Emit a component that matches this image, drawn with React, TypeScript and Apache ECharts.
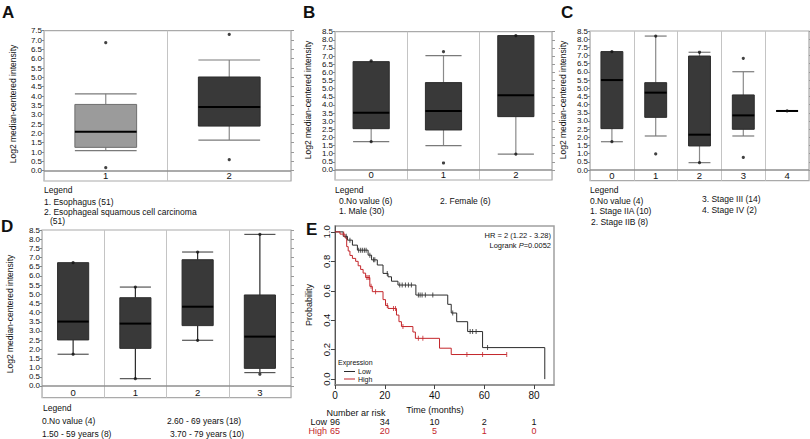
import React, { useEffect, useRef } from 'react';
import * as echarts from 'echarts';

const FONT = '"Liberation Sans", Arial, Helvetica, sans-serif';

// ---------- Panel A ----------
const aCategories = ['1', '2'];
// [min, Q1, median, Q3, max]
const aBoxes = [
  [1.07, 1.25, 2.09, 3.55, 4.12],
  [1.64, 2.39, 3.41, 5.02, 5.93],
];
const aFills = ['#9b9b9b', '#393939'];
const aPoints = [[0, 6.86], [0, 0.16], [1, 7.3], [1, 0.59]];
const aTicks = [0, 0.5, 1, 1.5, 2, 2.5, 3, 3.5, 4, 4.5, 5, 5.5, 6, 6.5, 7, 7.5];
const aLegend = ['1. Esophagus (51)', '2. Esophageal squamous cell carcinoma', '(51)'];

// ---------- Panel B ----------
const bCategories = ['0', '1', '2'];
const bBoxes = [
  [1.74, 2.54, 3.52, 6.66, 6.7],
  [1.5, 2.46, 3.63, 5.37, 7.03],
  [0.98, 3.28, 4.59, 8.26, 8.26],
];
const bFills = ['#393939', '#393939', '#393939'];
const bPoints = [[0, 6.7], [0, 1.74], [1, 7.27], [1, 0.43], [2, 8.26], [2, 0.98]];
const bLegend = ['0.No value (6)', '1. Male (30)', '2. Female (6)'];

// ---------- Panel C ----------
const cCategories = ['0', '1', '2', '3', '4'];
const cBoxes = [
  [1.73, 2.53, 5.5, 7.24, 7.24],
  [2.08, 3.22, 4.73, 5.34, 8.19],
  [0.45, 1.47, 2.16, 6.97, 7.2],
  [2.08, 2.49, 3.34, 4.59, 6.01],
  [3.61, 3.61, 3.61, 3.61, 3.61],
];
const cFills = ['#393939', '#393939', '#393939', '#393939', '#393939'];
const cPoints = [[0, 7.24], [0, 1.73], [1, 8.19], [1, 0.98], [2, 7.2], [2, 0.45], [3, 6.83], [3, 0.77], [4, 3.61]];
const cLegend = ['0.No value (4)', '1. Stage IIA (10)', '2. Stage IIB (8)', '3. Stage III (14)', '4. Stage IV (2)'];

// ---------- Panel D ----------
const dCategories = ['0', '1', '2', '3'];
const dBoxes = [
  [1.73, 2.51, 3.51, 6.72, 6.72],
  [0.4, 2.05, 3.4, 4.81, 5.39],
  [2.49, 3.29, 4.32, 6.88, 7.3],
  [0.73, 0.96, 2.69, 4.96, 8.26],
];
const dFills = ['#393939', '#393939', '#393939', '#393939'];
const dPoints = [[0, 6.72], [0, 1.73], [1, 5.39], [1, 0.4], [2, 7.3], [2, 2.49], [3, 8.26], [3, 0.64]];
const dLegend = ['0.No value (4)', '1.50 - 59 years (8)', '2.60 - 69 years (18)', '3.70 - 79 years (10)'];

const tTicks85 = [0, 0.5, 1, 1.5, 2, 2.5, 3, 3.5, 4, 4.5, 5, 5.5, 6, 6.5, 7, 7.5, 8, 8.5];

// ---------- Panel E (Kaplan-Meier) ----------
const kmXTicks = [0, 20, 40, 60, 80];
const kmYTicks = [0, 0.2, 0.4, 0.6, 0.8, 1.0];
const lowTimes = [0, 3.3, 5, 7, 9, 13.3, 14.7, 17, 19.3, 21.3, 22.7, 25.3, 32.5, 45.3, 46.7, 48.9, 53.3, 59.3, 84.3];
const lowSurv = [1, 0.97, 0.944, 0.91, 0.876, 0.842, 0.81, 0.775, 0.718, 0.695, 0.665, 0.639, 0.571, 0.508, 0.449, 0.39, 0.323, 0.214, 0];
const lowCensor = [4.5, 6, 9.5, 10.3, 11, 11.8, 12.5, 14, 15.5, 16, 21, 26, 27, 28.3, 29.5, 30.7, 33.5, 34.2, 35, 36.3, 39.3, 47.3, 54.3, 55.3, 56.7, 61.3];
const highTimes = [0, 2, 4, 4.7, 5.3, 6, 7, 8.3, 9.3, 10.3, 11.3, 12.3, 14, 15, 19.3, 20.3, 21.3, 24.7, 25.7, 26.7, 31.3, 32.3, 42, 46.7, 69];
const highSurv = [1, 0.985, 0.96, 0.9, 0.87, 0.84, 0.82, 0.8, 0.77, 0.745, 0.72, 0.69, 0.63, 0.594, 0.54, 0.5, 0.48, 0.435, 0.39, 0.357, 0.32, 0.277, 0.21, 0.167, 0.167];
const highCensor = [3.5, 12.8, 13.3, 13.8, 14.5, 16.3, 21, 23.5, 24.3, 27.3, 33.5, 35.3, 53, 59.3, 69];
const riskTimes = [0, 20, 40, 60, 80];
const riskLow = [96, 34, 10, 2, 1];
const riskHigh = [65, 20, 5, 1, 0];
const hrText = 'HR = 2 (1.22 - 3.28)';
const logrankP = '0.0052';

const LOW_COLOR = '#2b2b2b';
const HIGH_COLOR = '#c4262b';

function stepAt(times: number[], surv: number[], t: number) {
  let v = surv[0];
  for (let i = 0; i < times.length; i++) if (times[i] <= t) v = surv[i];
  return v;
}

// layout of boxplot panels
const boxPanels = [
  { cats: aCategories, boxes: aBoxes, fills: aFills, points: aPoints, ticks: aTicks, yMin: -0.552, yMax: 7.5,
    grid: { left: 44, right: 519, top: 30.7, bottom: 258 }, whisker: '#8a8a8a', cap: '#7a7a7a' },
  { cats: bCategories, boxes: bBoxes, fills: bFills, points: bPoints, ticks: tTicks85, yMin: -0.615, yMax: 8.5,
    grid: { left: 335, right: 258, top: 31.7, bottom: 259 }, whisker: '#8a8a8a', cap: '#7a7a7a' },
  { cats: cCategories, boxes: cBoxes, fills: cFills, points: cPoints, ticks: tTicks85, yMin: -0.654, yMax: 8.5,
    grid: { left: 590, right: 1, top: 31, bottom: 258.3 }, whisker: '#8a8a8a', cap: '#7a7a7a' },
  { cats: dCategories, boxes: dBoxes, fills: dFills, points: dPoints, ticks: tTicks85, yMin: -0.638, yMax: 8.5,
    grid: { left: 42, right: 519, top: 230, bottom: 41.3 }, whisker: '#2a2a2a', cap: '#555555' },
];

function txt(text: string, x: number, y: number, opts: any = {}) {
  return {
    type: 'text',
    x: opts.rot ? x : 0,
    y: opts.rot ? y : 0,
    rotation: opts.rot || 0,
    silent: true,
    style: {
      text,
      x: opts.rot ? 0 : x,
      y: opts.rot ? 0 : y,
      fill: opts.fill || '#111',
      font: `${opts.fontWeight || 'normal'} ${opts.size || 8.5}px ${FONT}`,
      fontSize: opts.size || 8.5,
      fontFamily: FONT,
      fontWeight: opts.fontWeight || 'normal',
      textAlign: opts.align || 'left',
      align: opts.align || 'left',
      textVerticalAlign: 'middle',
      verticalAlign: 'middle',
      rich: opts.rich,
    },
  };
}

export default function App() {
  const ref = useRef<HTMLDivElement>(null);

  useEffect(() => {
    if (!ref.current) return;
    const chart = echarts.init(ref.current, undefined, { renderer: 'svg' });

    const grids: any[] = [];
    const xAxes: any[] = [];
    const yAxes: any[] = [];
    const series: any[] = [];

    boxPanels.forEach((p, i) => {
      grids.push({ ...p.grid, show: true, borderColor: '#aaaaaa', borderWidth: 1.2, backgroundColor: 'transparent' });
      xAxes.push({
        type: 'category', gridIndex: i, data: p.cats, boundaryGap: true,
        axisLine: { show: false, onZero: false },
        axisTick: { show: false },
        axisLabel: { interval: 0, inside: true, margin: 1, fontSize: 9.5, lineHeight: 9, color: '#111', fontFamily: FONT },
        splitLine: { show: true, interval: 0, lineStyle: { color: '#c4c4c4', width: 1 } },
      });
      yAxes.push({
        type: 'value', gridIndex: i, min: p.yMin, max: p.yMax, position: 'left',
        axisLine: { show: false },
        axisTick: { show: true, length: 2, customValues: p.ticks, lineStyle: { color: '#888' } },
        axisLabel: { customValues: p.ticks, showMinLabel: true, showMaxLabel: true, hideOverlap: false,
          margin: 2, fontSize: 8, lineHeight: 8, color: '#111', fontFamily: FONT,
          formatter: (v: number) => v.toFixed(1) },
        splitLine: { show: false },
      });
    });
    // E axes
    grids.push({ left: 335, right: 256, top: 226, bottom: 54, show: true, borderColor: '#a0a0a0', borderWidth: 1.5 });
    xAxes.push({
      type: 'value', gridIndex: 4, min: 0, max: 88,
      axisLine: { show: true, onZero: false, lineStyle: { color: '#8a8a8a', width: 1.5 } },
      axisTick: { show: true, length: 4, customValues: kmXTicks, lineStyle: { color: '#444' } },
      axisLabel: { customValues: kmXTicks, margin: 5, fontSize: 10, color: '#111', fontFamily: FONT },
      splitLine: { show: false },
    });
    yAxes.push({
      type: 'value', gridIndex: 4, min: -0.04, max: 1.04,
      axisLine: { show: true, onZero: false, lineStyle: { color: '#555', width: 1 } },
      axisTick: { show: true, length: 4, customValues: kmYTicks, lineStyle: { color: '#444' } },
      axisLabel: { customValues: kmYTicks, showMinLabel: true, showMaxLabel: true, margin: 4, fontSize: 9.5, rotate: 90,
        color: '#111', fontFamily: FONT, formatter: (v: number) => v.toFixed(1) },
      splitLine: { show: false },
    });
    // right tick-only axes for box panels
    boxPanels.forEach((p, i) => {
      yAxes.push({
        type: 'value', gridIndex: i, min: p.yMin, max: p.yMax, position: 'right',
        axisLine: { show: false },
        axisTick: { show: true, length: 3, customValues: p.ticks, lineStyle: { color: '#999' } },
        axisLabel: { show: false },
        splitLine: { show: false },
      });
    });

    boxPanels.forEach((p, i) => {
      series.push({
        type: 'custom',
        xAxisIndex: i,
        yAxisIndex: i,
        encode: { x: 0, y: [1, 2, 3, 4, 5] },
        data: p.boxes.map((b, k) => [k, ...b]),
        renderItem: (params: any, api: any) => {
          const k = api.value(0);
          const mn = api.value(1), q1 = api.value(2), md = api.value(3), q3 = api.value(4), mx = api.value(5);
          const cx = api.coord([k, md])[0];
          const bw = api.size([1, 0])[0] * 0.5;
          const y = (v: number) => api.coord([k, v])[1];
          const x0 = cx - bw / 2, x1 = cx + bw / 2;
          const fill = p.fills[params.dataIndex];
          const stroke = fill === '#393939' ? '#2c2c2c' : '#6e6e6e';
          const children: any[] = [];
          if (mx - q3 > 0.08) {
            children.push({ type: 'line', shape: { x1: cx, y1: y(q3), x2: cx, y2: y(mx) }, style: { stroke: p.whisker, lineWidth: 1.2 } });
            children.push({ type: 'line', shape: { x1: x0, y1: y(mx), x2: x1, y2: y(mx) }, style: { stroke: p.cap, lineWidth: 1.2 } });
          }
          if (q1 - mn > 0.08) {
            children.push({ type: 'line', shape: { x1: cx, y1: y(q1), x2: cx, y2: y(mn) }, style: { stroke: p.whisker, lineWidth: 1.2 } });
            children.push({ type: 'line', shape: { x1: x0, y1: y(mn), x2: x1, y2: y(mn) }, style: { stroke: p.cap, lineWidth: 1.2 } });
          }
          children.push({ type: 'rect', shape: { x: x0, y: y(q3), width: bw, height: Math.max(0, y(q1) - y(q3)) },
            style: { fill, stroke, lineWidth: 1 } });
          children.push({ type: 'line', shape: { x1: x0, y1: y(md), x2: x1, y2: y(md) }, style: { stroke: '#000', lineWidth: 2 } });
          return { type: 'group', children };
        },
        z: 3,
      });
      series.push({
        type: 'scatter', xAxisIndex: i, yAxisIndex: i, data: p.points, symbolSize: 3.2,
        itemStyle: { color: '#111' }, z: 5, silent: true,
        markLine: {
          silent: true, symbol: ['none', 'none'], label: { show: false },
          lineStyle: { color: '#8f8f8f', width: 1.5, type: 'solid' },
          data: [{ yAxis: 0 }],
        },
      });
    });

    // KM curves
    series.push({
      type: 'line', xAxisIndex: 4, yAxisIndex: 4, step: 'end', symbol: 'none',
      data: lowTimes.map((t, i) => [t, lowSurv[i]]), lineStyle: { color: LOW_COLOR, width: 1 }, z: 3,
    });
    series.push({
      type: 'line', xAxisIndex: 4, yAxisIndex: 4, step: 'end', symbol: 'none',
      data: highTimes.map((t, i) => [t, highSurv[i]]), lineStyle: { color: HIGH_COLOR, width: 1 }, z: 4,
    });
    const tick = 'path://M0,0h1v10h-1z';
    series.push({
      type: 'scatter', xAxisIndex: 4, yAxisIndex: 4, symbol: tick, symbolSize: [1, 5],
      data: lowCensor.map((t) => [t, stepAt(lowTimes, lowSurv, t)]), itemStyle: { color: LOW_COLOR }, z: 5, silent: true,
    });
    series.push({
      type: 'scatter', xAxisIndex: 4, yAxisIndex: 4, symbol: tick, symbolSize: [1, 5],
      data: highCensor.map((t) => [t, stepAt(highTimes, highSurv, t)]), itemStyle: { color: HIGH_COLOR }, z: 6, silent: true,
    });

    chart.setOption({
      animation: false,
      backgroundColor: '#ffffff',
      textStyle: { fontFamily: FONT },
      grid: grids,
      xAxis: xAxes,
      yAxis: yAxes,
      series,
    });

    const g: any[] = [];
    // panel letters
    g.push(txt('A', 2, 12.5, { size: 17, fontWeight: 'bold' }));
    g.push(txt('B', 303, 12.5, { size: 17, fontWeight: 'bold' }));
    g.push(txt('C', 561, 12.5, { size: 17, fontWeight: 'bold' }));
    g.push(txt('D', 1, 226.5, { size: 17, fontWeight: 'bold' }));
    g.push(txt('E', 306, 229, { size: 17, fontWeight: 'bold' }));
    // y titles
    const yTitle = 'Log2 median-centered intensity';
    g.push(txt(yTitle, 13, 104, { rot: Math.PI / 2, align: 'center' }));
    g.push(txt(yTitle, 308, 100, { rot: Math.PI / 2, align: 'center' }));
    g.push(txt(yTitle, 563, 100, { rot: Math.PI / 2, align: 'center' }));
    g.push(txt(yTitle, 10, 314, { rot: Math.PI / 2, align: 'center' }));
    // legends
    g.push(txt('Legend', 44, 190));
    g.push(txt(aLegend[0], 44, 202));
    g.push(txt(aLegend[1], 44, 211.5));
    g.push(txt(aLegend[2], 50, 221));
    g.push(txt('Legend', 335, 190));
    g.push(txt(bLegend[0], 339, 201));
    g.push(txt(bLegend[1], 339, 211));
    g.push(txt(bLegend[2], 440, 201));
    g.push(txt('Legend', 590, 189.5));
    g.push(txt(cLegend[0], 590, 200.5));
    g.push(txt(cLegend[1], 590, 210.5));
    g.push(txt(cLegend[2], 591, 222));
    g.push(txt(cLegend[3], 702, 199));
    g.push(txt(cLegend[4], 702, 209.5));
    g.push(txt('Legend', 43, 408));
    g.push(txt(dLegend[0], 42, 421));
    g.push(txt(dLegend[1], 42, 434));
    g.push(txt(dLegend[2], 167, 421));
    g.push(txt(dLegend[3], 170, 434));
    // KM texts
    g.push(txt('Probability', 309, 305, { rot: Math.PI / 2, align: 'center', size: 9 }));
    g.push(txt(hrText, 551, 235, { align: 'right', size: 7.5 }));
    g.push(txt('{n|Logrank }{i|P}{n|=' + logrankP + '}', 551, 245, {
      align: 'right', size: 7.5,
      rich: { n: { fontSize: 7.5, fontFamily: FONT, fill: '#111', color: '#111' },
              i: { fontSize: 7.5, fontFamily: FONT, fontStyle: 'italic', fill: '#111', color: '#111' } },
    }));
    g.push(txt('Expression', 338, 362.5, { size: 7 }));
    g.push({ type: 'line', silent: true, shape: { x1: 344, y1: 371.5, x2: 355, y2: 371.5 }, style: { stroke: LOW_COLOR, lineWidth: 1 } });
    g.push({ type: 'line', silent: true, shape: { x1: 344, y1: 379, x2: 355, y2: 379 }, style: { stroke: HIGH_COLOR, lineWidth: 1 } });
    g.push(txt('Low', 358, 371.5, { size: 7 }));
    g.push(txt('High', 358, 379, { size: 7 }));
    g.push(txt('Time (months)', 435, 410, { align: 'center', size: 9 }));
    g.push(txt('Number ar risk', 356, 412.5, { align: 'center', size: 9 }));
    g.push(txt('Low', 327, 422, { align: 'right', size: 9 }));
    g.push(txt('High', 327, 431, { align: 'right', size: 9, fill: HIGH_COLOR }));
    riskTimes.forEach((t, i) => {
      const px = chart.convertToPixel({ xAxisIndex: 4 } as any, t) as unknown as number;
      g.push(txt(String(riskLow[i]), px, 422, { align: 'center', size: 9 }));
      g.push(txt(String(riskHigh[i]), px, 431, { align: 'center', size: 9, fill: HIGH_COLOR }));
    });

    chart.setOption({ graphic: g });

    return () => chart.dispose();
  }, []);

  return <div ref={ref} style={{ position: 'fixed', left: 0, top: 0, width: 810, height: 439, background: '#fff' }} />;
}
